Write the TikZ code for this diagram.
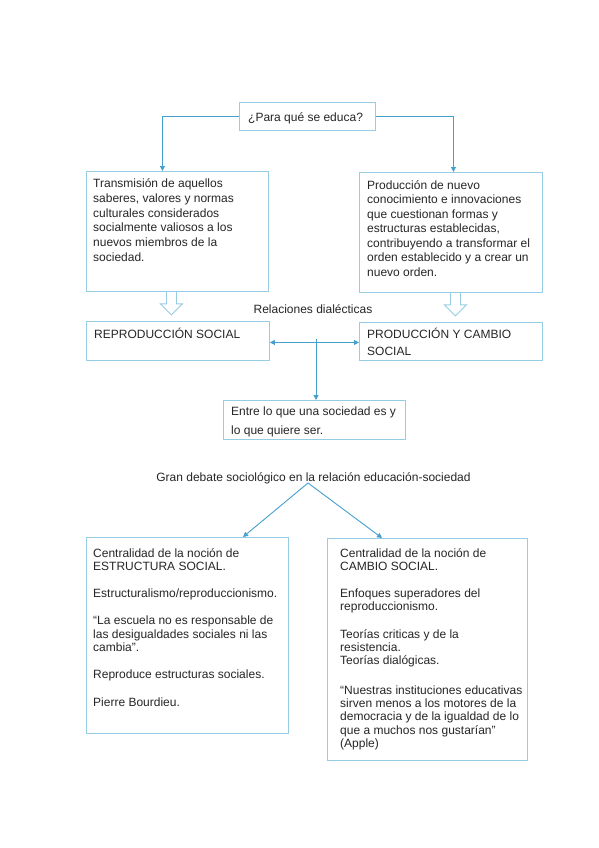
\documentclass[tikz,border=0pt]{standalone}
\usepackage{fontspec}
\setmainfont{Liberation Sans}
\usetikzlibrary{arrows.meta}
\definecolor{boxc}{RGB}{150,205,228}
\definecolor{arrc}{RGB}{70,160,205}
\definecolor{holc}{RGB}{150,205,228}
\tikzset{
  box/.style={draw=boxc, line width=0.9pt, inner sep=0pt, anchor=north west},
  txt/.style={inner sep=0pt, anchor=north west, align=left, text=black!85},
  arr/.style={draw=arrc, line width=0.9pt, -{Triangle[length=5pt,width=5pt]}},
  darr/.style={draw=arrc, line width=0.9pt, {Triangle[length=5pt,width=5pt]}-{Triangle[length=5pt,width=5pt]}},
  hollow/.pic={\draw[holc, line width=0.9pt, line join=miter] (-5,0) -- (-5,12) -- (-11,12) -- (0,23) -- (11,12) -- (5,12) -- (5,0);}
}
\begin{document}
\begin{tikzpicture}[x=1pt,y=-1pt]
\fill[white] (0,0) rectangle (599,848);
\useasboundingbox (0,0) rectangle (599,848);
\def\fs#1{\fontsize{12}{#1}\selectfont}
% boxes
\node[box, minimum width=136pt, minimum height=28pt] (q) at (239,102) {};
\node[box, minimum width=182pt, minimum height=120pt] (lbox) at (86,171) {};
\node[box, minimum width=183pt, minimum height=120pt] (rbox) at (359,172) {};
\node[box, minimum width=183pt, minimum height=39pt] (rep) at (86,321) {};
\node[box, minimum width=183pt, minimum height=38pt] (prod) at (359,322) {};
\node[box, minimum width=182pt, minimum height=39pt] (entre) at (223,400) {};
\node[box, minimum width=202pt, minimum height=196pt] (lb) at (86,537) {};
\node[box, minimum width=200pt, minimum height=222pt] (rb) at (327,538) {};
% texts
\node[txt, font=\fs{15}] (tq) at ([shift={(9,10)}]q.north west) {¿Para qué se educa?};
\node[txt, font=\fs{14.8}] (tl) at ([shift={(7,7.5)}]lbox.north west) {Transmisión de aquellos\\saberes, valores y normas\\culturales considerados\\socialmente valiosos a los\\nuevos miembros de la\\sociedad.};
\node[txt, font=\fs{14.5}] (tr) at ([shift={(8,8)}]rbox.north west) {Producción de nuevo\\conocimiento e innovaciones\\que cuestionan formas y\\estructuras establecidas,\\contribuyendo a transformar el\\orden establecido y a crear un\\nuevo orden.};
\node[txt, font=\fs{16.7}] (trep) at ([shift={(8,7)}]rep.north west) {REPRODUCCIÓN SOCIAL};
\node[txt, font=\fs{16.7}] (tprod) at ([shift={(8,6)}]prod.north west) {PRODUCCIÓN Y CAMBIO\\SOCIAL};
\node[txt, font=\fs{19}] (tentre) at ([shift={(8,7)}]entre.north west) {Entre lo que una sociedad es y\\lo que quiere ser.};
\node[txt, font=\fs{13.3}] (tlb) at ([shift={(7,11)}]lb.north west) {Centralidad de la noción de\\ESTRUCTURA SOCIAL.\\[14pt]Estructuralismo/reproduccionismo.\\[14pt]“La escuela no es responsable de\\las desigualdades sociales ni las\\cambia”.\\[14pt]Reproduce estructuras sociales.\\[14pt]Pierre Bourdieu.};
\node[txt, font=\fs{13.3}] (trb) at ([shift={(13,10)}]rb.north west) {Centralidad de la noción de\\CAMBIO SOCIAL.\\[14pt]Enfoques superadores del\\reproduccionismo.\\[14pt]Teorías criticas y de la\\resistencia.\\Teorías dialógicas.\\[16pt]“Nuestras instituciones educativas\\sirven menos a los motores de la\\democracia y de la igualdad de lo\\que a muchos nos gustarían”\\(Apple)};
\node[inner sep=0pt, anchor=base, font=\fs{15}, text=black!85] (rel) at (313,313) {Relaciones dialécticas};
\node[inner sep=0pt, anchor=base, font=\fs{15}, text=black!85] (gran) at (313.5,481) {Gran debate sociológico en la relación educación-sociedad};
% connectors
\draw[arr] (q.west) -| ([xshift=-15pt]lbox.north);
\draw[arr] (q.east) -| ([xshift=2.5pt]rbox.north);
\pic at ([xshift=-6pt]lbox.south) {hollow};
\pic at ([xshift=4.5pt]rbox.south) {hollow};
\draw[darr] ([yshift=-1.5pt]rep.east) -- ([yshift=-1.5pt]rep.east -| prod.west);
\coordinate (mid) at (316,339);
\draw[arr] (mid) -- (mid |- entre.north);
\coordinate (apex) at (308,483);
\draw[arr] (apex) -- ([xshift=157pt]lb.north west);
\draw[arr] (apex) -- ([xshift=55pt]rb.north west);
\end{tikzpicture}
\end{document}
